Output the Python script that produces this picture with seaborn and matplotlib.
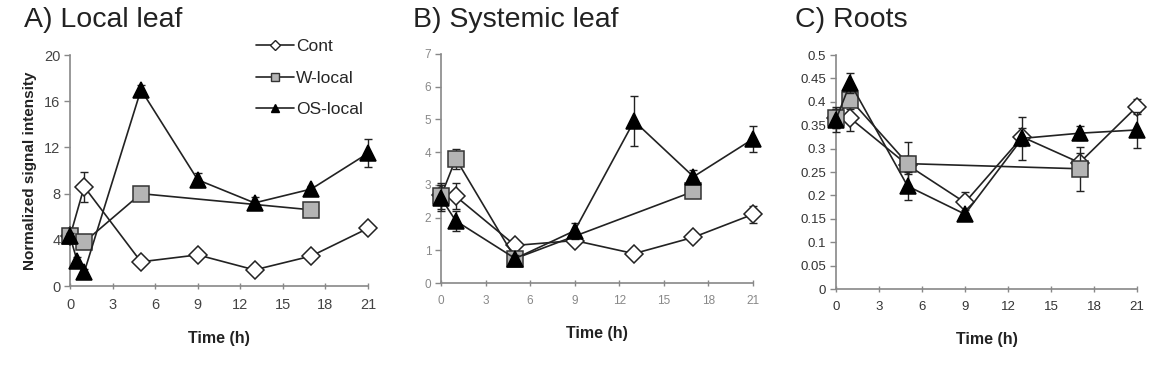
import numpy as np
import pandas as pd
import matplotlib
matplotlib.use("Agg")
import matplotlib.pyplot as plt
import seaborn as sns
from matplotlib.lines import Line2D

sns.set_style("ticks")
plt.rcParams['font.family'] = ['Liberation Sans', 'DejaVu Sans']

# ---------------- data ----------------
xticks = [0, 3, 6, 9, 12, 15, 18, 21]
series_names = ["Cont", "W-local", "OS-local"]

# A) Local leaf
A_cont_t = [0, 1, 5, 9, 13, 17, 21]
A_cont = [4.3, 8.6, 2.1, 2.7, 1.4, 2.6, 5.0]
A_cont_err = [0.3, 1.3, 0.2, 0.2, 0.2, 0.2, 0.2]
A_w_t = [0, 1, 5, 17]
A_w = [4.3, 3.8, 8.0, 6.6]
A_w_err = [0.3, 0.4, 0.3, 0.3]
A_os_t = [0, 0.5, 1, 5, 9, 13, 17, 21]
A_os = [4.3, 2.2, 1.2, 17.0, 9.2, 7.2, 8.4, 11.5]
A_os_err = [0.3, 0.3, 0.3, 0.4, 0.6, 0.5, 0.3, 1.2]
A_yticks = [0, 4, 8, 12, 16, 20]

# B) Systemic leaf
B_cont_t = [0, 1, 5, 9, 13, 17, 21]
B_cont = [2.7, 2.65, 1.15, 1.3, 0.9, 1.4, 2.1]
B_cont_err = [0.3, 0.4, 0.1, 0.1, 0.1, 0.1, 0.25]
B_w_t = [0, 1, 5, 17]
B_w = [2.65, 3.8, 0.75, 2.8]
B_w_err = [0.4, 0.3, 0.1, 0.1]
B_os_t = [0, 1, 5, 9, 13, 17, 21]
B_os = [2.6, 1.9, 0.75, 1.6, 4.95, 3.25, 4.4]
B_os_err = [0.4, 0.3, 0.1, 0.25, 0.75, 0.2, 0.4]
B_yticks = [0, 1, 2, 3, 4, 5, 6, 7]

# C) Roots
C_cont_t = [0, 1, 5, 9, 13, 17, 21]
C_cont = [0.365, 0.365, 0.265, 0.185, 0.325, 0.27, 0.39]
C_cont_err = [0.02, 0.027, 0.02, 0.022, 0.02, 0.02, 0.016]
C_w_t = [0, 1, 5, 17]
C_w = [0.365, 0.405, 0.268, 0.257]
C_w_err = [0.02, 0.02, 0.047, 0.047]
C_os_t = [0, 1, 5, 9, 13, 17, 21]
C_os = [0.362, 0.44, 0.22, 0.16, 0.322, 0.333, 0.34]
C_os_err = [0.026, 0.022, 0.03, 0.008, 0.046, 0.015, 0.038]
C_yticks = [0, 0.05, 0.1, 0.15, 0.2, 0.25, 0.3, 0.35, 0.4, 0.45, 0.5]
C_yticklabels = ["0", "0.05", "0.1", "0.15", "0.2", "0.25", "0.3", "0.35", "0.4", "0.45", "0.5"]

titles = ["A) Local leaf", "B) Systemic leaf", "C) Roots"]

# ---------------- styles ----------------
styles = {
    "Cont": dict(marker="D", mfc="white", mec="#222222", ms=9, z=3),
    "W-local": dict(marker="s", mfc="#b4b4b4", mec="#333333", ms=12, z=4),
    "OS-local": dict(marker="^", mfc="black", mec="black", ms=12, z=5),
}

fig = plt.figure(figsize=(11.61, 3.72), dpi=100)
axA = fig.add_axes([0.0603, 0.231, 0.2567, 0.621])
axB = fig.add_axes([0.3798, 0.239, 0.2687, 0.616])
axC = fig.add_axes([0.7200, 0.223, 0.2593, 0.629])

panels = [
    (axA, [(A_cont_t, A_cont, A_cont_err), (A_w_t, A_w, A_w_err), (A_os_t, A_os, A_os_err)],
     A_yticks, [str(v) for v in A_yticks], 10.5, 20, "#444444"),
    (axB, [(B_cont_t, B_cont, B_cont_err), (B_w_t, B_w, B_w_err), (B_os_t, B_os, B_os_err)],
     B_yticks, [str(v) for v in B_yticks], 8.5, 7, "#888888"),
    (axC, [(C_cont_t, C_cont, C_cont_err), (C_w_t, C_w, C_w_err), (C_os_t, C_os, C_os_err)],
     C_yticks, C_yticklabels, 9.5, 0.5, "#333333"),
]

for ax, data, yt, ytl, tfs, ymax, tcol in panels:
    for name, (t, v, e) in zip(series_names, data):
        st = styles[name]
        ax.errorbar(t, v, yerr=e, fmt="none", ecolor="#222222", elinewidth=1.0,
                    capsize=3, capthick=1.0, zorder=st["z"] - 0.5, clip_on=False)
        df = pd.DataFrame({"t": t, "v": v})
        sns.lineplot(data=df, x="t", y="v", ax=ax, sort=False, color="#222222",
                     linewidth=1.2, marker=st["marker"], markersize=st["ms"],
                     markerfacecolor=st["mfc"], markeredgecolor=st["mec"],
                     markeredgewidth=1.1, zorder=st["z"], clip_on=False, legend=False)
    ax.set_xlim(0, 21)
    ax.set_ylim(0, ymax)
    ax.set_xticks(xticks)
    ax.set_yticks(yt)
    ax.set_yticklabels(ytl)
    ax.tick_params(axis="y", direction="out", length=4, width=1, color="#888888",
                   labelsize=tfs, labelcolor=tcol, pad=3)
    ax.tick_params(axis="x", direction="inout", length=5, width=1, color="#888888",
                   labelsize=tfs, labelcolor=tcol, pad=6)
    for s in ["top", "right"]:
        ax.spines[s].set_visible(False)
    for s in ["left", "bottom"]:
        ax.spines[s].set_color("#888888")
        ax.spines[s].set_linewidth(1.2)
    ax.set_xlabel("Time (h)", fontsize=11.5, fontweight="bold", labelpad=14, color="#222222")
    ax.set_ylabel("")

axA.set_ylabel("Normalized signal intensity", fontsize=11, fontweight="bold", labelpad=5, color="#222222")

fig.text(0.021, 0.945, titles[0], fontsize=20.5, va="center", ha="left", color="#222222")
fig.text(0.356, 0.945, titles[1], fontsize=20.5, va="center", ha="left", color="#222222")
fig.text(0.685, 0.945, titles[2], fontsize=20.5, va="center", ha="left", color="#222222")

handles = []
for name in series_names:
    st = styles[name]
    handles.append(Line2D([0], [0], color="#222222", lw=1.2, marker=st["marker"],
                          markersize=5.5, markerfacecolor=st["mfc"], markeredgecolor=st["mec"]))
axA.legend(handles, series_names, loc="upper left", bbox_to_anchor=(0.6, 1.1),
           frameon=False, fontsize=12.5, handlelength=2.2, handletextpad=0.1,
           labelspacing=0.95, borderaxespad=0)

fig.savefig("out.png", dpi=100)
